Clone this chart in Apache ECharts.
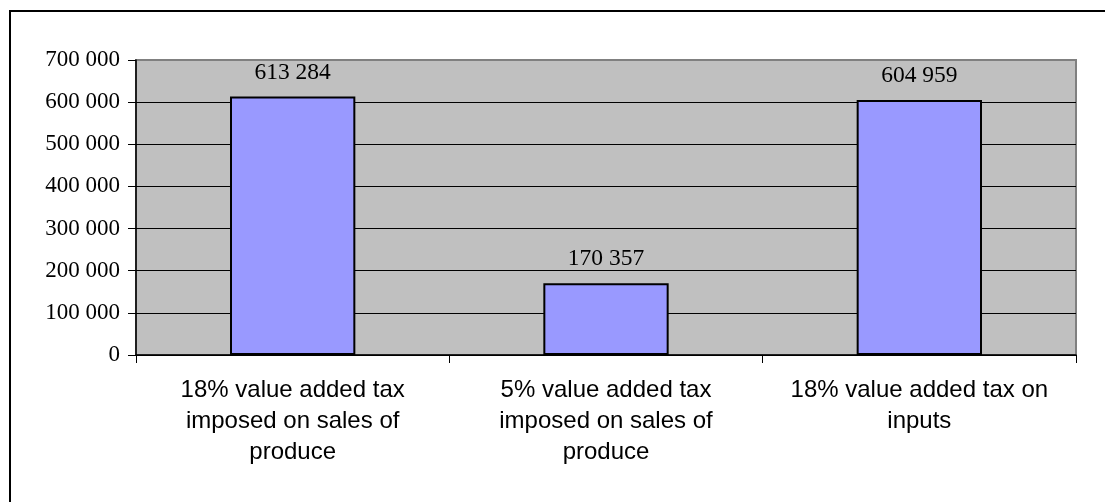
<!DOCTYPE html>
<html>
<head>
<meta charset="utf-8">
<script src="https://cdn.jsdelivr.net/npm/echarts@6/dist/echarts.min.js"></script>
<style>
	html, body { margin: 0; padding: 0; background: #fff; }
	#myChart { width: 1105px; height: 502px; }
</style>
</head>
<body>
<div id="myChart"></div>
<script>
var categories = [
	"18% value added tax\nimposed on sales of\nproduce",
	"5% value added tax\nimposed on sales of\nproduce",
	"18% value added tax on\ninputs",
];
var values = [613284, 170357, 604959];
var yTicks = { min: 0, max: 700000, interval: 100000 };

// 千位用空格分隔
function fmt(v) {
	return String(v).replace(/\B(?=(\d{3})+(?!\d))/g, " ");
}

var myChart = echarts.init(document.getElementById("myChart"));
myChart.setOption({
	animation: false,
	graphic: [
		{
			type: "rect",
			shape: { x: 10, y: 11, width: 1200, height: 600 },
			style: { fill: "none", stroke: "#000", lineWidth: 2 },
			silent: true,
		},
	],
	grid: {
		left: 136,
		top: 60,
		right: 29,
		bottom: 147,
		show: true,
		backgroundColor: "#c0c0c0",
		borderColor: "#808080",
		borderWidth: 2,
	},
	xAxis: {
		type: "category",
		data: categories,
		axisLine: { lineStyle: { color: "#000", width: 1.5 } },
		axisTick: { show: true, length: 8, lineStyle: { color: "#000" } },
		axisLabel: {
			color: "#000",
			fontFamily: "Liberation Sans, Arial, sans-serif",
			fontSize: 24,
			lineHeight: 31,
			margin: 20,
			align: "center",
			interval: 0,
		},
	},
	yAxis: {
		type: "value",
		min: yTicks.min,
		max: yTicks.max,
		interval: yTicks.interval,
		axisLine: { show: true, lineStyle: { color: "#000", width: 1.5 } },
		axisTick: { show: true, length: 8, lineStyle: { color: "#000" } },
		splitLine: {
			show: true,
			lineStyle: {
				color: ["#000", "#000", "#000", "#000", "#000", "#000", "#000", "#808080"],
				width: 1,
			},
		},
		axisLabel: {
			color: "#000",
			fontFamily: "Liberation Serif, Times New Roman, serif",
			fontSize: 23,
			margin: 16,
			formatter: fmt,
		},
	},
	series: [
		{
			type: "bar",
			data: values,
			barWidth: "40%",
			itemStyle: {
				color: "#9999ff",
				borderColor: "#000",
				borderWidth: 2,
			},
			label: {
				show: true,
				position: "top",
				distance: 12,
				color: "#000",
				fontFamily: "Liberation Serif, Times New Roman, serif",
				fontSize: 23.5,
				formatter: (p) => fmt(p.value),
			},
		},
	],
});
</script>
</body>
</html>
